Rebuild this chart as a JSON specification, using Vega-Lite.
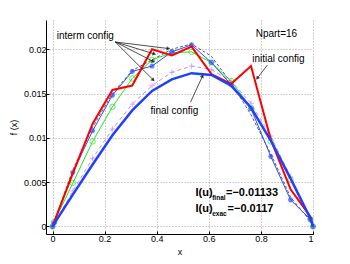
{
  "$schema": "https://vega.github.io/schema/vega-lite/v6.json",
  "width": 267,
  "height": 214,
  "autosize": "none",
  "padding": {"left": 46, "top": 20, "right": 37, "bottom": 30},
  "background": "white",
  "config": {
    "font": "Liberation Sans",
    "view": {"stroke": null},
    "axis": {
      "grid": true,
      "gridColor": "#888",
      "gridDash": [1, 2],
      "gridWidth": 0.8,
      "domainColor": "black",
      "domainWidth": 1,
      "tickColor": "black",
      "tickSize": -3,
      "labelFont": "Liberation Sans",
      "labelFontSize": 9,
      "labelColor": "black",
      "titleFont": "Liberation Sans",
      "titleFontSize": 9,
      "titleFontWeight": "normal",
      "titleColor": "black"
    }
  },
  "datasets": {
    "red": [
      {"x": 0, "f": 0}, {"x": 0.006, "f": 0.0005}, {"x": 0.078, "f": 0.0060}, {"x": 0.154, "f": 0.0116},
      {"x": 0.23, "f": 0.0154}, {"x": 0.306, "f": 0.0159}, {"x": 0.382, "f": 0.0200}, {"x": 0.458, "f": 0.0193},
      {"x": 0.534, "f": 0.0203}, {"x": 0.61, "f": 0.0172}, {"x": 0.686, "f": 0.0161}, {"x": 0.762, "f": 0.0181},
      {"x": 0.838, "f": 0.0098}, {"x": 0.914, "f": 0.0042}, {"x": 0.99, "f": 0.0011}, {"x": 1, "f": 0}
    ],
    "star": [
      {"x": 0, "f": 0}, {"x": 0.006, "f": 0.0004}, {"x": 0.078, "f": 0.0061}, {"x": 0.154, "f": 0.0108},
      {"x": 0.23, "f": 0.0148}, {"x": 0.306, "f": 0.0175}, {"x": 0.382, "f": 0.0181}, {"x": 0.458, "f": 0.0197},
      {"x": 0.534, "f": 0.0205}, {"x": 0.61, "f": 0.0185}, {"x": 0.686, "f": 0.0160}, {"x": 0.762, "f": 0.0133},
      {"x": 0.838, "f": 0.0079}, {"x": 0.914, "f": 0.0030}, {"x": 0.99, "f": 0.0008}, {"x": 1, "f": 0}
    ],
    "green": [
      {"x": 0, "f": 0}, {"x": 0.006, "f": 0.0005}, {"x": 0.078, "f": 0.0049}, {"x": 0.154, "f": 0.0096},
      {"x": 0.23, "f": 0.0135}, {"x": 0.306, "f": 0.0167}, {"x": 0.382, "f": 0.0188}, {"x": 0.458, "f": 0.0196},
      {"x": 0.534, "f": 0.0197}, {"x": 0.61, "f": 0.0185}, {"x": 0.686, "f": 0.0164}, {"x": 0.762, "f": 0.0134},
      {"x": 0.838, "f": 0.0096}, {"x": 0.914, "f": 0.0053}, {"x": 0.99, "f": 0.0008}, {"x": 1, "f": 0}
    ],
    "final": [
      {"x": 0, "f": 0}, {"x": 0.006, "f": 0.0003}, {"x": 0.078, "f": 0.0036}, {"x": 0.154, "f": 0.0070},
      {"x": 0.23, "f": 0.0103}, {"x": 0.306, "f": 0.0131}, {"x": 0.382, "f": 0.0153}, {"x": 0.458, "f": 0.0166},
      {"x": 0.534, "f": 0.0173}, {"x": 0.61, "f": 0.0171}, {"x": 0.686, "f": 0.0159}, {"x": 0.762, "f": 0.0134},
      {"x": 0.838, "f": 0.0097}, {"x": 0.914, "f": 0.0054}, {"x": 0.99, "f": 0.0009}, {"x": 1, "f": 0}
    ],
    "pink": [
      {"x": 0, "f": 0}, {"x": 0.006, "f": 0.0003}, {"x": 0.078, "f": 0.0040}, {"x": 0.154, "f": 0.0077},
      {"x": 0.23, "f": 0.0110}, {"x": 0.306, "f": 0.0138}, {"x": 0.382, "f": 0.0159}, {"x": 0.458, "f": 0.0174},
      {"x": 0.534, "f": 0.0181}, {"x": 0.61, "f": 0.0177}, {"x": 0.686, "f": 0.0164}, {"x": 0.762, "f": 0.0139},
      {"x": 0.838, "f": 0.0102}, {"x": 0.914, "f": 0.0056}, {"x": 0.99, "f": 0.0010}, {"x": 1, "f": 0}
    ],
    "dash": [
      {"x": 0, "f": 0}, {"x": 0.006, "f": 0.0005}, {"x": 0.078, "f": 0.0064}, {"x": 0.154, "f": 0.0112},
      {"x": 0.23, "f": 0.0150}, {"x": 0.306, "f": 0.0176}, {"x": 0.382, "f": 0.0188}, {"x": 0.458, "f": 0.0200},
      {"x": 0.534, "f": 0.0206}, {"x": 0.61, "f": 0.0192}, {"x": 0.686, "f": 0.0162}, {"x": 0.762, "f": 0.0126},
      {"x": 0.838, "f": 0.0082}, {"x": 0.914, "f": 0.0033}, {"x": 0.99, "f": 0.0006}, {"x": 1, "f": 0}
    ],
    "arrows": [
      {"id": "i1", "x": 0.241, "f": 0.02082, "x2": 0.445, "f2": 0.02008},
      {"id": "i2", "x": 0.241, "f": 0.02082, "x2": 0.391, "f2": 0.01947},
      {"id": "i3", "x": 0.241, "f": 0.02082, "x2": 0.387, "f2": 0.01862},
      {"id": "i4", "x": 0.241, "f": 0.02082, "x2": 0.387, "f2": 0.01653},
      {"id": "fin", "x": 0.530, "f": 0.01404, "x2": 0.576, "f2": 0.01698},
      {"id": "ini", "x": 0.825, "f": 0.01822, "x2": 0.786, "f2": 0.01672}
    ],
    "labels": [
      {"t": "interm config", "x": 0.016, "f": 0.02145},
      {"t": "final config", "x": 0.376, "f": 0.01303},
      {"t": "initial config", "x": 0.767, "f": 0.01889},
      {"t": "Npart=16", "x": 0.78, "f": 0.02169}
    ],
    "big": [
      {"t": "I(u)", "x": 0.549, "f": 0.00346},
      {"t": "=−0.01133", "x": 0.666, "f": 0.00346},
      {"t": "I(u)", "x": 0.549, "f": 0.00165},
      {"t": "=−0.0117", "x": 0.672, "f": 0.00165}
    ],
    "sub": [
      {"t": "final", "x": 0.613, "f": 0.00302},
      {"t": "exac", "x": 0.613, "f": 0.00121}
    ]
  },
  "layer": [
    {
      "data": {"name": "dash"},
      "mark": {"type": "line", "color": "#333333", "strokeWidth": 0.8, "strokeDash": [3, 2]},
      "encoding": {
        "x": {"field": "x", "type": "quantitative", "scale": {"domain": [-0.025, 1.0], "nice": false, "zero": false},
          "axis": {"values": [0, 0.2, 0.4, 0.6, 0.8, 1], "format": "~g", "title": "x", "labelPadding": 3, "titlePadding": 4}},
        "y": {"field": "f", "type": "quantitative", "scale": {"domain": [-0.00085, 0.0233], "nice": false, "zero": false},
          "axis": {"values": [0, 0.005, 0.01, 0.015, 0.02], "format": "~g", "title": "f (x)", "labelPadding": 3, "titlePadding": 5}}
      }
    },
    {
      "data": {"name": "pink"},
      "mark": {"type": "line", "color": "#c58cff", "strokeWidth": 1, "strokeDash": [4, 3]},
      "encoding": {"x": {"field": "x", "type": "quantitative"}, "y": {"field": "f", "type": "quantitative"}}
    },
    {
      "data": {"name": "pink"},
      "mark": {"type": "point", "shape": "M-1,0L1,0M0,-1L0,1", "filled": false, "color": "#c58cff", "size": 30, "strokeWidth": 1},
      "encoding": {"x": {"field": "x", "type": "quantitative"}, "y": {"field": "f", "type": "quantitative"}}
    },
    {
      "data": {"name": "green"},
      "mark": {"type": "line", "color": "#22e622", "strokeWidth": 1},
      "encoding": {"x": {"field": "x", "type": "quantitative"}, "y": {"field": "f", "type": "quantitative"}}
    },
    {
      "data": {"name": "green"},
      "mark": {"type": "point", "shape": "circle", "filled": false, "color": "#22e622", "size": 30, "strokeWidth": 1},
      "encoding": {"x": {"field": "x", "type": "quantitative"}, "y": {"field": "f", "type": "quantitative"}}
    },
    {
      "data": {"name": "star"},
      "mark": {"type": "line", "color": "#2d4dff", "strokeWidth": 1},
      "encoding": {"x": {"field": "x", "type": "quantitative"}, "y": {"field": "f", "type": "quantitative"}}
    },
    {
      "data": {"name": "star"},
      "mark": {"type": "point", "shape": "M-1,0L1,0M0,-1L0,1M-0.7,-0.7L0.7,0.7M-0.7,0.7L0.7,-0.7", "filled": false, "color": "#2d4dff", "size": 25, "strokeWidth": 1.6},
      "encoding": {"x": {"field": "x", "type": "quantitative"}, "y": {"field": "f", "type": "quantitative"}}
    },
    {
      "data": {"name": "red"},
      "mark": {"type": "line", "color": "#ff0000", "strokeWidth": 2},
      "encoding": {"x": {"field": "x", "type": "quantitative"}, "y": {"field": "f", "type": "quantitative"}}
    },
    {
      "data": {"name": "final"},
      "mark": {"type": "line", "color": "#2040ff", "strokeWidth": 2.5},
      "encoding": {"x": {"field": "x", "type": "quantitative"}, "y": {"field": "f", "type": "quantitative"}}
    },
    {
      "data": {"name": "arrows"},
      "mark": {"type": "rule", "color": "#222222", "strokeWidth": 0.8},
      "encoding": {
        "x": {"field": "x", "type": "quantitative"}, "y": {"field": "f", "type": "quantitative"},
        "x2": {"field": "x2"}, "y2": {"field": "f2"}
      }
    },
    {
      "data": {"name": "arrows"},
      "transform": [{"filter": "datum.id === 'i1'"}],
      "mark": {"type": "point", "shape": "triangle-right", "filled": true, "color": "black", "size": 18, "angle": 7},
      "encoding": {"x": {"field": "x2", "type": "quantitative"}, "y": {"field": "f2", "type": "quantitative"}}
    },
    {
      "data": {"name": "arrows"},
      "transform": [{"filter": "datum.id === 'i2'"}],
      "mark": {"type": "point", "shape": "triangle-right", "filled": true, "color": "black", "size": 18, "angle": 17},
      "encoding": {"x": {"field": "x2", "type": "quantitative"}, "y": {"field": "f2", "type": "quantitative"}}
    },
    {
      "data": {"name": "arrows"},
      "transform": [{"filter": "datum.id === 'i3'"}],
      "mark": {"type": "point", "shape": "triangle-right", "filled": true, "color": "black", "size": 18, "angle": 27},
      "encoding": {"x": {"field": "x2", "type": "quantitative"}, "y": {"field": "f2", "type": "quantitative"}}
    },
    {
      "data": {"name": "arrows"},
      "transform": [{"filter": "datum.id === 'i4'"}],
      "mark": {"type": "point", "shape": "triangle-right", "filled": true, "color": "black", "size": 18, "angle": 45},
      "encoding": {"x": {"field": "x2", "type": "quantitative"}, "y": {"field": "f2", "type": "quantitative"}}
    },
    {
      "data": {"name": "arrows"},
      "transform": [{"filter": "datum.id === 'fin'"}],
      "mark": {"type": "point", "shape": "triangle-right", "filled": true, "color": "black", "size": 18, "angle": -65},
      "encoding": {"x": {"field": "x2", "type": "quantitative"}, "y": {"field": "f2", "type": "quantitative"}}
    },
    {
      "data": {"name": "arrows"},
      "transform": [{"filter": "datum.id === 'ini'"}],
      "mark": {"type": "point", "shape": "triangle-right", "filled": true, "color": "black", "size": 18, "angle": 127},
      "encoding": {"x": {"field": "x2", "type": "quantitative"}, "y": {"field": "f2", "type": "quantitative"}}
    },
    {
      "data": {"name": "labels"},
      "mark": {"type": "text", "align": "left", "baseline": "middle", "fontSize": 10, "font": "Liberation Sans", "color": "black"},
      "encoding": {"x": {"field": "x", "type": "quantitative"}, "y": {"field": "f", "type": "quantitative"}, "text": {"field": "t"}}
    },
    {
      "data": {"name": "big"},
      "mark": {"type": "text", "align": "left", "baseline": "alphabetic", "fontSize": 11, "fontWeight": "bold", "font": "Liberation Sans", "color": "black"},
      "encoding": {"x": {"field": "x", "type": "quantitative"}, "y": {"field": "f", "type": "quantitative"}, "text": {"field": "t"}}
    },
    {
      "data": {"name": "sub"},
      "mark": {"type": "text", "align": "left", "baseline": "alphabetic", "fontSize": 6.5, "fontWeight": "bold", "font": "Liberation Sans", "color": "black"},
      "encoding": {"x": {"field": "x", "type": "quantitative"}, "y": {"field": "f", "type": "quantitative"}, "text": {"field": "t"}}
    }
  ]
}
